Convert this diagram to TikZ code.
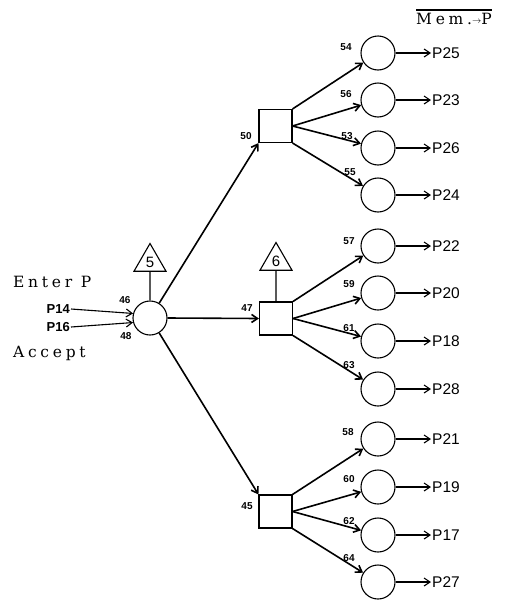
\documentclass[tikz,border=0pt]{standalone}
\usepackage{fontspec}
\setmainfont{Liberation Serif}
\newfontfamily\lab{Liberation Sans}
\newfontfamily\wide[LetterSpace=24]{DejaVu Serif}
\usetikzlibrary{arrows.meta,shapes.geometric}
\begin{document}
\begin{tikzpicture}[x=1pt,y=-1pt,
  circ/.style={circle,draw,line width=1.1pt,minimum size=34pt,inner sep=0pt},
  sq/.style={rectangle,draw,line width=1.1pt,minimum size=33pt,inner sep=0pt},
  tri/.style={regular polygon,regular polygon sides=3,draw,line width=1.1pt,minimum size=37pt,inner sep=0pt,font=\lab\fontsize{15}{15}\selectfont},
  num/.style={font=\lab\bfseries\fontsize{10}{10}\selectfont,inner sep=0pt},
  plab/.style={font=\lab\fontsize{15.5}{16}\selectfont,inner sep=1pt},
  ilab/.style={font=\lab\bfseries\fontsize{13}{13}\selectfont,inner sep=1pt},
  serif/.style={font=\wide\fontsize{15.5}{16}\selectfont,inner sep=0pt},
  arr/.style={line width=1.6pt,-{Straight Barb[length=6pt,width=8pt]}},
  oarr/.style={line width=1.1pt,-{Straight Barb[length=6pt,width=8pt]}},
  plain/.style={line width=1.1pt}]
\useasboundingbox (0,0) rectangle (511,600);
% main circle and inputs
\node[circ] (c0) at (150,318) {};
\node[tri] (t5) at (150,262) {5};
\draw[plain] (t5.south) -- (c0.north);
\node[serif,anchor=west] (enter) at (13,282) {Enter P};
\node[serif,anchor=west] (accept) at (13,353) {Accept};
\node[ilab,anchor=east] (p14) at (71,309) {P14};
\node[ilab,anchor=east] (p16) at (71,327) {P16};
\node[num] (n46) at (125,300) {46};
\node[num] (n48) at (126,336) {48};
\draw[oarr] (p14.east) -- (c0.165);
\draw[oarr] (p16.east) -- (c0.195);
% squares
\node[sq] (s1) at (275.5,126) {};
\node[sq] (s2) at (276,318.5) {};
\node[sq] (s3) at (275.5,511.5) {};
\node[tri] (t6) at (276,261) {6};
\draw[plain] (t6.south) -- (s2.north);
\draw[arr] (c0) -- (s1.south west);
\draw[arr] (c0.east) -- (s2.west);
\draw[arr] (c0) -- (s3.north west);
\node[num] (n50) at (246,136) {50};
\node[num] (n47) at (247,308) {47};
\node[num] (n45) at (247,506) {45};
% right circles
\foreach \n/\y/\o/\lx/\ly/\src in {
  54/53/P25/346/47/s1.north east,
  56/100/P23/346/94/s1.east,
  53/148/P26/347/136/s1.east,
  55/195/P24/350/172/s1.south east,
  57/246/P22/349/241/s2.north east,
  59/293/P20/349/284/s2.east,
  61/341/P18/349/328/s2.east,
  63/389/P28/349/365/s2.south east,
  58/439/P21/348/432/s3.north east,
  60/487/P19/349/479/s3.east,
  62/535/P17/349/521/s3.east,
  64/582/P27/349/558/s3.south east}{
  \node[circ] (c\n) at (378,\y) {};
  \node[plab,anchor=west] (o\n) at (431,\y) {\o};
  \node[num] (l\n) at (\lx,\ly) {\n};
  \draw[arr] (\src) -- (c\n);
  \draw[oarr] (c\n.east) -- (o\n.west);
}
% title
\node[serif,anchor=west] (mem) at (416,19) {Mem.\raisebox{1.5pt}{\small$\rightarrow$}P};
\draw[plain] ([yshift=3pt]mem.north west) -- ([yshift=3pt]mem.north east);
\end{tikzpicture}
\end{document}
